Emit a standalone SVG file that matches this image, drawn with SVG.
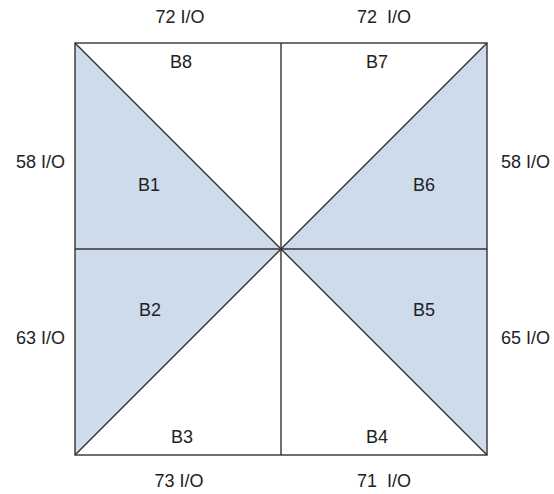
<svg xmlns="http://www.w3.org/2000/svg" width="554" height="494" viewBox="0 0 554 494">
<style>
text{font-family:"Liberation Sans",Arial,sans-serif;font-size:18px;fill:#222}
.m{text-anchor:middle}
.e{text-anchor:end}
.sh{fill:#cddbea;stroke:none}
.ln{stroke:#333;stroke-width:1.4;fill:none}
</style>
<rect width="554" height="494" fill="#fff"/>
<g id="B1"><polygon class="sh" points="75,43 281,249 75,249"/><text class="m" x="149" y="191">B1</text></g>
<g id="B2"><polygon class="sh" points="75,249 281,249 75,455"/><text class="m" x="150" y="316">B2</text></g>
<g id="B3"><text class="m" x="182" y="443">B3</text></g>
<g id="B4"><text class="m" x="377" y="443">B4</text></g>
<g id="B5"><polygon class="sh" points="487,249 487,455 281,249"/><text class="m" x="424" y="316">B5</text></g>
<g id="B6"><polygon class="sh" points="487,43 487,249 281,249"/><text class="m" x="424" y="191">B6</text></g>
<g id="B7"><text class="m" x="377" y="68">B7</text></g>
<g id="B8"><text class="m" x="181" y="68">B8</text></g>
<g id="connectors">
<rect class="ln" x="75" y="43" width="412" height="412"/>
<line class="ln" x1="281" y1="43" x2="281" y2="455"/>
<line class="ln" x1="75" y1="249" x2="487" y2="249"/>
<line class="ln" x1="75" y1="43" x2="487" y2="455"/>
<line class="ln" x1="487" y1="43" x2="75" y2="455"/>
</g>
<g id="io-labels">
<text class="m" x="180" y="23">72 I/O</text>
<text class="m" x="384" y="23" xml:space="preserve">72  I/O</text>
<text class="e" x="65" y="168">58 I/O</text>
<text class="e" x="65" y="344">63 I/O</text>
<text x="501" y="168">58 I/O</text>
<text x="501" y="344">65 I/O</text>
<text class="m" x="179" y="487">73 I/O</text>
<text class="m" x="384" y="487" xml:space="preserve">71  I/O</text>
</g>
</svg>
